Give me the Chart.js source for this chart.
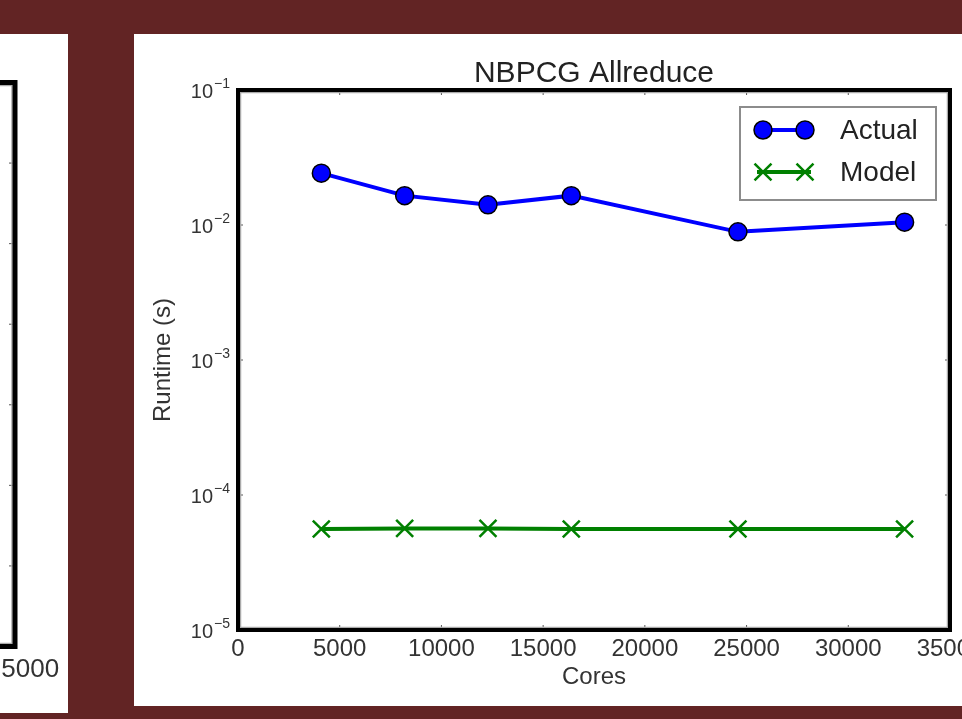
<!DOCTYPE html>
<html>
<head>
<meta charset="utf-8">
<script src="https://cdn.jsdelivr.net/npm/chart.js@4.4.1/dist/chart.umd.min.js"></script>
<style>
  html, body { margin: 0; padding: 0; }
  body { width: 962px; height: 719px; background: #622424; position: relative; overflow: hidden; }
  #leftPanel { position: absolute; left: 0; top: 34px; width: 68px; height: 679px; background: #fff; overflow: hidden; }
  #leftCanvas { position: absolute; left: -600px; top: 0; }
  #rightPanel { position: absolute; left: 134px; top: 34px; width: 828px; height: 672px; background: #fff; overflow: hidden; }
  #rightCanvas { position: absolute; left: 0; top: 0; }
</style>
</head>
<body>
<div id="leftPanel"><canvas id="leftCanvas" width="700" height="679"></canvas></div>
<div id="rightPanel"><canvas id="rightCanvas" width="900" height="672"></canvas></div>
<script>
// data
const cores = [4096, 8192, 12288, 16384, 24576, 32768];
const actualRuntime = [0.0242, 0.0165, 0.0141, 0.0165, 0.0089, 0.0105];
const modelRuntime = [0.000056, 0.0000565, 0.0000565, 0.000056, 0.000056, 0.000056];

const xTicks = [0, 5000, 10000, 15000, 20000, 25000, 30000, 35000];
const yTicks = [1e-5, 1e-4, 1e-3, 1e-2, 1e-1];
const yTickLabels = ["10^-5", "10^-4", "10^-3", "10^-2", "10^-1"];

// the neighbouring chart, only its right edge shows
const leftXTicks = [35000];
const leftYTicks = [0, 1, 2, 3, 4, 5, 6, 7];

const FONT = "'Liberation Sans', Arial, sans-serif";
const TEXT = "#333";

// black matplotlib-style frame with inward ticks
function framePlugin(opts) {
  return {
    id: "frame",
    afterDraw(chart) {
      const ctx = chart.ctx;
      const a = chart.chartArea;
      const xs = chart.scales.x, ys = chart.scales.y;
      ctx.save();
      ctx.strokeStyle = "#555";
      ctx.lineWidth = 1;
      ctx.beginPath();
      opts.xTicks.forEach(v => {
        const px = xs.getPixelForValue(v);
        ctx.moveTo(px, a.bottom); ctx.lineTo(px, a.bottom - opts.major);
        ctx.moveTo(px, a.top); ctx.lineTo(px, a.top + opts.major);
      });
      opts.yTicks.forEach(v => {
        const py = ys.getPixelForValue(v);
        ctx.moveTo(a.left, py); ctx.lineTo(a.left + opts.major, py);
        ctx.moveTo(a.right, py); ctx.lineTo(a.right - opts.major, py);
      });
      (opts.minor || []).forEach(v => {
        const py = ys.getPixelForValue(v);
        ctx.moveTo(a.left, py); ctx.lineTo(a.left + opts.major / 2, py);
        ctx.moveTo(a.right, py); ctx.lineTo(a.right - opts.major / 2, py);
      });
      ctx.stroke();
      ctx.strokeStyle = "#aaa";
      ctx.lineWidth = 1.5;
      ctx.strokeRect(a.left + opts.width / 2 + 0.5, a.top + opts.width / 2 + 0.5,
        a.right - a.left - opts.width - 1, a.bottom - a.top - opts.width - 1);
      ctx.strokeStyle = "#000";
      ctx.lineWidth = opts.width;
      ctx.strokeRect(a.left, a.top, a.right - a.left, a.bottom - a.top);
      ctx.restore();
    }
  };
}

// y labels as 10 with a raised exponent
const yLabelPlugin = {
  id: "yLabels",
  afterDraw(chart) {
    const ctx = chart.ctx;
    const ys = chart.scales.y;
    const x = chart.chartArea.left - 25;
    ctx.save();
    ctx.fillStyle = TEXT;
    ctx.textBaseline = "alphabetic";
    yTicks.forEach((v, i) => {
      const parts = yTickLabels[i].split("^");
      const py = ys.getPixelForValue(v);
      ctx.font = "20px " + FONT;
      ctx.textAlign = "right";
      ctx.fillText(parts[0], x, py + 8);
      ctx.font = "14px " + FONT;
      ctx.textAlign = "left";
      ctx.fillText(parts[1].replace("-", "\u2212"), x + 1, py - 2);
    });
    ctx.restore();
  }
};

// legend box in the upper right corner, like matplotlib's
const legendPlugin = {
  id: "legendBox",
  afterDraw(chart) {
    const ctx = chart.ctx;
    const a = chart.chartArea;
    const w = 196, h = 93;
    const x0 = a.right - 14 - w, y0 = a.top + 17;
    ctx.save();
    ctx.fillStyle = "#fff";
    ctx.fillRect(x0, y0, w, h);
    ctx.strokeStyle = "#8c8c8c";
    ctx.lineWidth = 2;
    ctx.strokeRect(x0, y0, w, h);
    chart.data.datasets.forEach((ds, i) => {
      const cy = y0 + 23 + i * 42;
      ctx.strokeStyle = ds.borderColor;
      ctx.lineWidth = ds.borderWidth;
      ctx.beginPath();
      ctx.moveTo(x0 + 17, cy);
      ctx.lineTo(x0 + 71, cy);
      ctx.stroke();
      [x0 + 23, x0 + 65].forEach(mx => {
        ctx.fillStyle = ds.pointBackgroundColor;
        ctx.strokeStyle = ds.pointBorderColor;
        ctx.lineWidth = ds.pointBorderWidth;
        Chart.helpers.drawPoint(ctx, {
          pointStyle: ds.pointStyle, rotation: 0,
          radius: ds.pointRadius, borderWidth: ds.pointBorderWidth
        }, mx, cy);
      });
      ctx.fillStyle = "#222";
      ctx.font = "28px " + FONT;
      ctx.textAlign = "left";
      ctx.textBaseline = "middle";
      ctx.fillText(ds.label, x0 + 100, cy + 1);
    });
    ctx.restore();
  }
};

const minorTicks = [];
for (let e = -5; e < -1; e++) {
  for (let m = 2; m < 10; m++) minorTicks.push(m * Math.pow(10, e));
}

new Chart(document.getElementById("rightCanvas"), {
  type: "line",
  data: {
    datasets: [
      {
        label: "Actual",
        data: cores.map((c, i) => ({ x: c, y: actualRuntime[i] })),
        borderColor: "#0000ff",
        backgroundColor: "#0000ff",
        borderWidth: 4,
        pointStyle: "circle",
        pointRadius: 9,
        pointBackgroundColor: "#0000ff",
        pointBorderColor: "#000",
        pointBorderWidth: 1.5,
        tension: 0,
      },
      {
        label: "Model",
        data: cores.map((c, i) => ({ x: c, y: modelRuntime[i] })),
        borderColor: "#008000",
        backgroundColor: "#008000",
        borderWidth: 4,
        pointStyle: "crossRot",
        pointRadius: 12,
        pointBackgroundColor: "#008000",
        pointBorderColor: "#008000",
        pointBorderWidth: 2.5,
        tension: 0,
      },
    ],
  },
  options: {
    responsive: false,
    animation: false,
    layout: { padding: { left: 0, right: 84, top: 0, bottom: 0 } },
    plugins: {
      legend: { display: false },
      tooltip: { enabled: false },
      title: {
        display: true,
        fullSize: false,
        text: "NBPCG Allreduce",
        color: "#222",
        font: { family: FONT, size: 30, weight: "normal", lineHeight: 1.2 },
        padding: { top: 22, bottom: -2 },
      },
    },
    scales: {
      x: {
        type: "linear",
        min: 0,
        max: 35000,
        afterBuildTicks: s => { s.ticks = xTicks.map(v => ({ value: v })); },
        afterFit: s => { s.height = 76; s.paddingLeft = 0; s.paddingRight = 0; },
        ticks: {
          color: TEXT,
          padding: -3,
          maxRotation: 0,
          autoSkip: false,
          font: { family: FONT, size: 24 },
          callback: v => String(v),
        },
        grid: { display: false },
        border: { display: false },
        title: {
          display: true,
          text: "Cores",
          color: TEXT,
          font: { family: FONT, size: 24, lineHeight: 1.2 },
          padding: { top: 0, bottom: 14 },
        },
      },
      y: {
        type: "logarithmic",
        min: 1e-5,
        max: 1e-1,
        afterBuildTicks: s => { s.ticks = yTicks.map(v => ({ value: v })); },
        afterFit: s => { s.width = 104; s.paddingTop = 0; s.paddingBottom = 0; },
        ticks: { display: false },
        grid: { display: false },
        border: { display: false },
        title: {
          display: true,
          text: "Runtime (s)",
          color: TEXT,
          font: { family: FONT, size: 24, lineHeight: 1.2 },
          padding: { top: 15, bottom: 0 },
        },
      },
    },
  },
  plugins: [
    framePlugin({ xTicks: xTicks, yTicks: yTicks, minor: minorTicks, major: 5, width: 4 }),
    yLabelPlugin,
    legendPlugin,
  ],
});

new Chart(document.getElementById("leftCanvas"), {
  type: "line",
  data: { datasets: [] },
  options: {
    responsive: false,
    animation: false,
    layout: { padding: { left: 0, right: 85, top: 48.5, bottom: 0 } },
    plugins: { legend: { display: false }, tooltip: { enabled: false } },
    scales: {
      x: {
        type: "linear",
        min: 0,
        max: 35000,
        afterBuildTicks: s => { s.ticks = leftXTicks.map(v => ({ value: v })); },
        afterFit: s => { s.height = 66.5; s.paddingLeft = 0; s.paddingRight = 0; },
        ticks: {
          color: TEXT,
          padding: 0,
          labelOffset: 8,
          font: { family: FONT, size: 26 },
          callback: v => String(v),
        },
        grid: { display: false },
        border: { display: false },
      },
      y: {
        type: "linear",
        min: 0,
        max: 7,
        afterFit: s => { s.width = 100; s.paddingTop = 0; s.paddingBottom = 0; },
        ticks: { display: false },
        grid: { display: false },
        border: { display: false },
      },
    },
  },
  plugins: [framePlugin({ xTicks: [], yTicks: leftYTicks, major: 6, width: 5 })],
});
</script>
</body>
</html>
